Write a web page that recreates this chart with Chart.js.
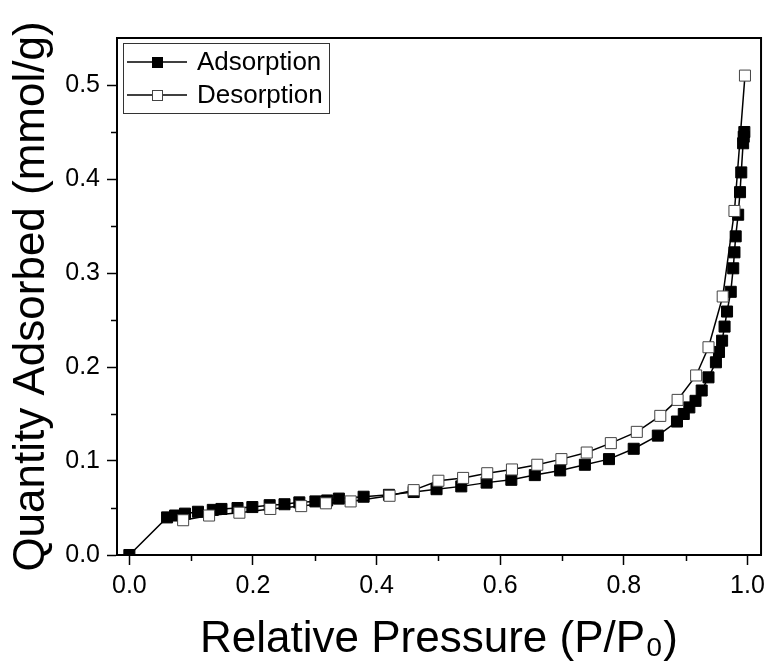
<!DOCTYPE html>
<html lang="en">
<head>
    <meta charset="UTF-8">
    <title>Adsorption / Desorption Isotherm</title>
    <script src="https://cdn.jsdelivr.net/npm/chart.js"></script>
    <style>
        body { margin: 0; background: #fff; }
    </style>
</head>
<body>
    <canvas id="isoChart" width="771" height="669"></canvas>

    <script>
        // Adsorption branch (filled squares)
        const adsX = [0.000, 0.061, 0.074, 0.090, 0.111, 0.135, 0.149, 0.175, 0.199, 0.227,
                      0.251, 0.275, 0.301, 0.320, 0.339, 0.379, 0.420, 0.460, 0.497, 0.537,
                      0.578, 0.618, 0.656, 0.697, 0.737, 0.776, 0.816, 0.855, 0.886, 0.897,
                      0.906, 0.916, 0.926, 0.937, 0.949, 0.954, 0.959, 0.963, 0.967, 0.973,
                      0.977, 0.979, 0.981, 0.985, 0.988, 0.990, 0.993, 0.994, 0.995];
        const adsY = [0.000, 0.040, 0.042, 0.044, 0.046, 0.048, 0.049, 0.050, 0.051, 0.053,
                      0.054, 0.056, 0.057, 0.058, 0.060, 0.062, 0.064, 0.067, 0.070, 0.073,
                      0.077, 0.080, 0.085, 0.090, 0.096, 0.102, 0.113, 0.127, 0.142, 0.150,
                      0.157, 0.164, 0.175, 0.189, 0.205, 0.216, 0.228, 0.243, 0.259, 0.280,
                      0.305, 0.322, 0.339, 0.362, 0.386, 0.407, 0.438, 0.445, 0.450];

        // Desorption branch (open squares)
        const desX = [0.996, 0.979, 0.960, 0.937, 0.917, 0.887, 0.859, 0.821, 0.779, 0.740,
                      0.699, 0.660, 0.619, 0.579, 0.540, 0.500, 0.460, 0.421, 0.358, 0.318,
                      0.278, 0.228, 0.178, 0.129, 0.087];
        const desY = [0.510, 0.366, 0.275, 0.221, 0.191, 0.165, 0.148, 0.131, 0.119, 0.109,
                      0.102, 0.096, 0.091, 0.087, 0.082, 0.079, 0.069, 0.063, 0.057, 0.055,
                      0.052, 0.049, 0.045, 0.042, 0.037];

        // Axis ticks
        const xTicks = [0.0, 0.2, 0.4, 0.6, 0.8, 1.0];
        const xMinor = [0.1, 0.3, 0.5, 0.7, 0.9];
        const yTicks = [0.0, 0.1, 0.2, 0.3, 0.4, 0.5];
        const yMinor = [0.05, 0.15, 0.25, 0.35, 0.45];

        const FONT = "Arial, 'Liberation Sans', sans-serif";

        // minor ticks + top/right frame + legend with line and marker
        const framePlugin = {
            id: 'frame',
            afterDraw(chart) {
                const ctx = chart.ctx;
                const a = chart.chartArea;
                const xs = chart.scales.x, ys = chart.scales.y;
                ctx.save();
                ctx.strokeStyle = '#000';
                ctx.lineWidth = 2;
                ctx.beginPath();
                ctx.moveTo(a.left, a.top);
                ctx.lineTo(a.right, a.top);
                ctx.lineTo(a.right, a.bottom);
                ctx.stroke();

                ctx.lineWidth = 1.5;
                ctx.beginPath();
                xMinor.forEach(v => {
                    const px = Math.round(xs.getPixelForValue(v)) + 0.5;
                    ctx.moveTo(px, a.bottom);
                    ctx.lineTo(px, a.bottom + 6);
                });
                yMinor.forEach(v => {
                    const py = Math.round(ys.getPixelForValue(v)) + 0.5;
                    ctx.moveTo(a.left, py);
                    ctx.lineTo(a.left - 6, py);
                });
                ctx.stroke();

                // legend
                const bx = a.left + 6, by = a.top + 5, bw = 206, bh = 70;
                ctx.lineWidth = 1;
                ctx.strokeStyle = '#333';
                ctx.strokeRect(bx + 0.5, by + 0.5, bw, bh);
                const rows = [
                    { label: 'Adsorption', fill: '#000', stroke: '#000', dy: 19 },
                    { label: 'Desorption', fill: '#fff', stroke: '#444', dy: 52 }
                ];
                rows.forEach(r => {
                    const cy = by + r.dy;
                    ctx.strokeStyle = '#000';
                    ctx.lineWidth = 1.5;
                    ctx.beginPath();
                    ctx.moveTo(bx + 4, cy);
                    ctx.lineTo(bx + 64, cy);
                    ctx.stroke();
                    ctx.fillStyle = r.fill;
                    ctx.fillRect(bx + 29, cy - 5, 11, 11);
                    ctx.strokeStyle = r.stroke;
                    ctx.lineWidth = 1;
                    ctx.strokeRect(bx + 29.5, cy - 4.5, 10, 10);
                    ctx.fillStyle = '#000';
                    ctx.font = '26px ' + FONT;
                    ctx.textBaseline = 'middle';
                    ctx.fillText(r.label, bx + 74, cy + 1);
                });
                ctx.restore();
            }
        };

        const ctx = document.getElementById('isoChart').getContext('2d');
        const isoChart = new Chart(ctx, {
            type: 'scatter',
            data: {
                datasets: [{
                    label: 'Adsorption',
                    data: adsX.map((x, i) => ({ x: x, y: adsY[i] })),
                    showLine: true,
                    borderColor: '#000',
                    borderWidth: 1.5,
                    pointStyle: 'rect',
                    pointRadius: 7.8,
                    pointBackgroundColor: '#000',
                    pointBorderColor: '#000',
                    pointBorderWidth: 1,
                    order: 2
                }, {
                    label: 'Desorption',
                    data: desX.map((x, i) => ({ x: x, y: desY[i] })),
                    showLine: true,
                    borderColor: '#000',
                    borderWidth: 1.5,
                    pointStyle: 'rect',
                    pointRadius: 7.8,
                    pointBackgroundColor: '#fff',
                    pointBorderColor: '#444',
                    pointBorderWidth: 1,
                    order: 1
                }]
            },
            options: {
                responsive: false,
                animation: false,
                layout: { padding: { top: 38, right: 6, left: 0, bottom: 0 } },
                plugins: {
                    legend: { display: false },
                    tooltip: { enabled: false }
                },
                scales: {
                    x: {
                        type: 'linear',
                        min: -0.02,
                        max: 1.022,
                        afterBuildTicks: s => { s.ticks = xTicks.map(v => ({ value: v })); },
                        afterFit: s => { s.height = 114; },
                        ticks: {
                            color: '#000',
                            padding: 6,
                            maxRotation: 0,
                            font: { family: FONT, size: 25 },
                            callback: v => v.toFixed(1)
                        },
                        grid: { drawOnChartArea: false, tickLength: 10, tickColor: '#000', tickWidth: 1.5 },
                        border: { color: '#000', width: 2 },
                        title: {
                            display: true,
                            text: 'Relative Pressure (P/P\u2080)',
                            color: '#000',
                            font: { family: FONT, size: 44 },
                            padding: { top: 0, bottom: 3 }
                        }
                    },
                    y: {
                        type: 'linear',
                        min: 0,
                        max: 0.55,
                        afterBuildTicks: s => { s.ticks = yTicks.map(v => ({ value: v })); },
                        afterFit: s => { s.width = 117; },
                        ticks: {
                            color: '#000',
                            padding: 7,
                            font: { family: FONT, size: 25 },
                            callback: v => v.toFixed(1)
                        },
                        grid: { drawOnChartArea: false, tickLength: 10, tickColor: '#000', tickWidth: 1.5 },
                        border: { color: '#000', width: 2 },
                        title: {
                            display: true,
                            text: 'Quantity Adsorbed (mmol/g)',
                            color: '#000',
                            font: { family: FONT, size: 44 },
                            padding: { top: 5, bottom: 0 }
                        }
                    }
                }
            },
            plugins: [framePlugin]
        });
    </script>
</body>
</html>
